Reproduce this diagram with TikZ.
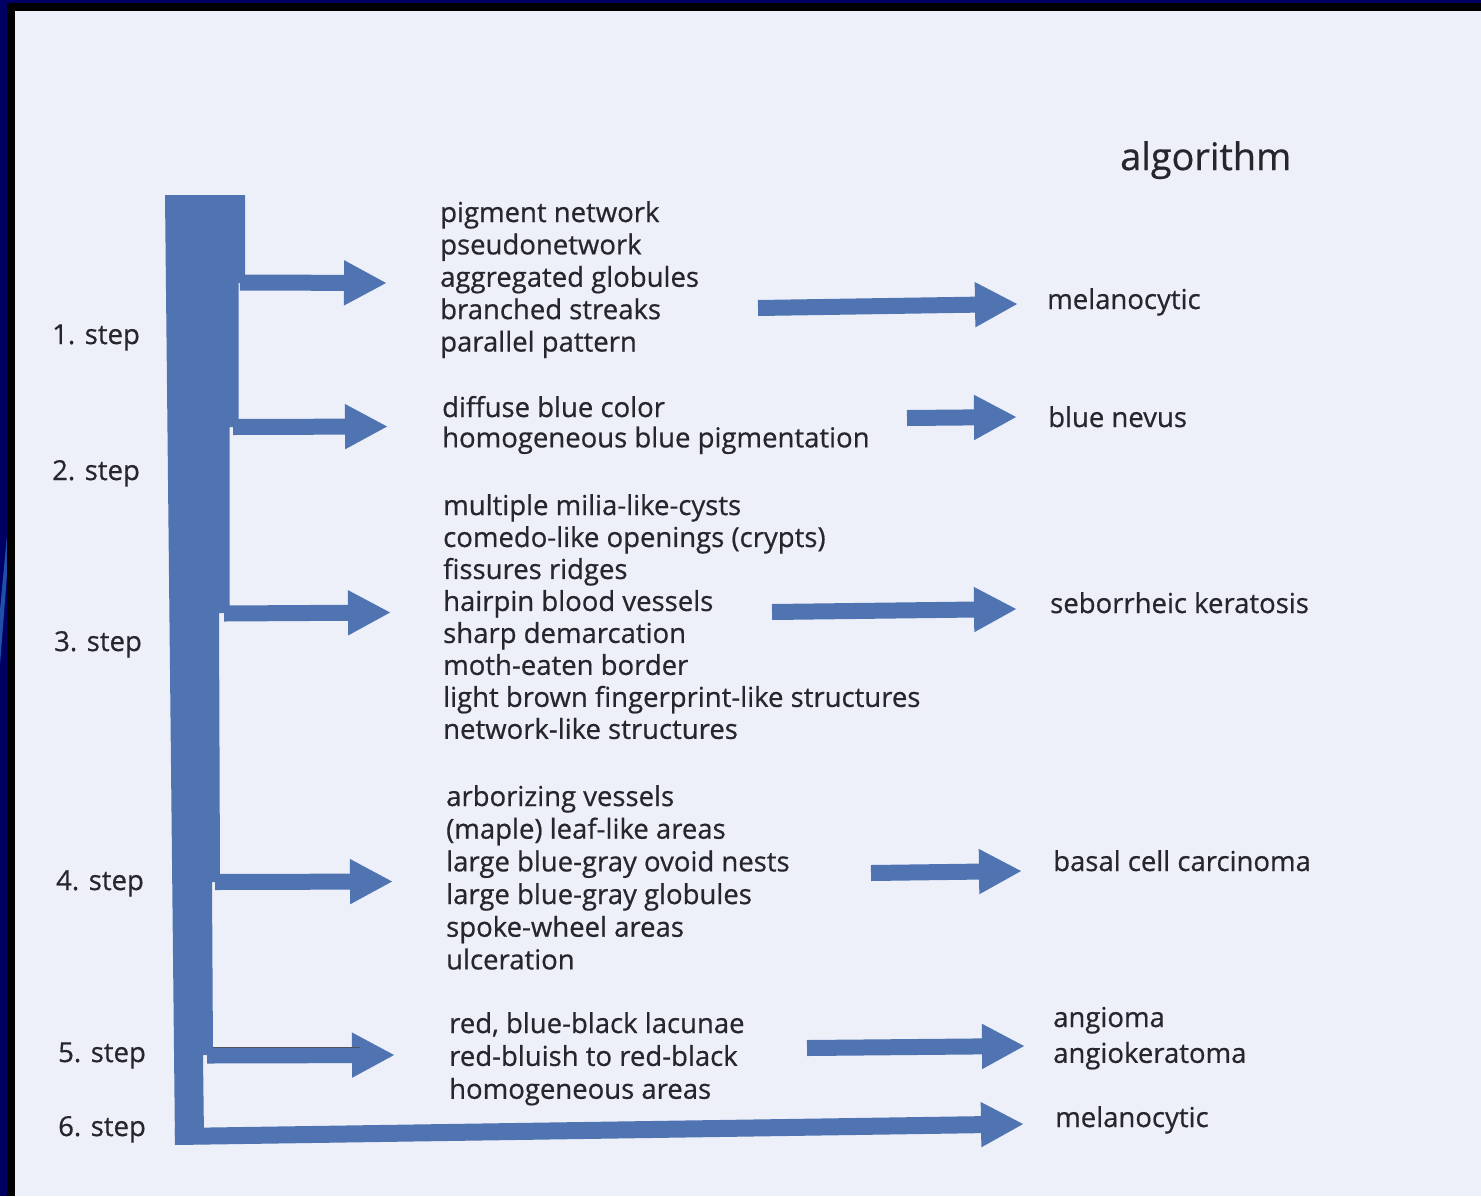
\documentclass[tikz,border=0pt]{standalone}
\usepackage{fontspec}
\setmainfont{Open Sans}[FakeBold=0.6]
\usetikzlibrary{arrows.meta}
\definecolor{pagebg}{RGB}{237,240,249}
\definecolor{barblue}{RGB}{80,116,177}
\definecolor{ink}{RGB}{38,38,44}
\definecolor{navy}{RGB}{0,0,100}
\definecolor{swoosh}{RGB}{30,80,170}
\newcommand{\bodyfont}{\fontsize{27.6}{32.5}\selectfont}
\tikzset{
  lbl/.style={anchor=base west, inner sep=0pt, text=ink, font=\bodyfont},
  grp/.style={anchor=base west, inner sep=0pt, text=ink},
  fat/.style={draw=barblue, line width=16bp, -{Triangle[length=43bp,width=42bp]}},
}
\newcommand{\grplines}[2]{{\fontsize{27.6}{#1}\selectfont\begin{tabular}[t]{@{}l@{}}#2\end{tabular}}}
\begin{document}
\begin{tikzpicture}[x=1bp,y=-1bp]
\useasboundingbox (0,0) rectangle (1481,1196);
% frame
\fill[navy] (0,0) rectangle (1481,1196);
\fill[swoosh] (0,610) -- (7,535) -- (7,575) -- (0,665) -- cycle;
\fill[black] (7,3) rectangle (1481,1196);
\fill[pagebg] (15,11) rectangle (1481,1196);

% main bar
\fill[barblue] (165,195) -- (245,195) -- (245,283) -- (238.5,283) -- (238.5,427)
  -- (229.5,427) -- (229.5,613) -- (219,613) -- (220,882) -- (212,882)
  -- (213,1055) -- (203,1055) -- (204,1137) -- (175,1145) -- cycle;

% branch points on the bar
\coordinate (b1) at (240,282.5);
\coordinate (b2) at (233,427);
\coordinate (b3) at (224,613.5);
\coordinate (b4) at (215,882);
\coordinate (b5) at (207,1055.5);
\coordinate (b6) at (175,1136.5);

% step labels
\node[lbl] (s1) at (52,344) {1. step};
\node[lbl] (s2) at (52,480) {2. step};
\node[lbl] (s3) at (54,651) {3. step};
\node[lbl] (s4) at (56,890) {4. step};
\node[lbl] (s5) at (58,1062) {5. step};
\node[lbl] (s6) at (58,1136) {6. step};

% title
\node[grp, font=\fontsize{38}{44}\selectfont] (title) at (1120,170) {algorithm};

% criteria groups
\node[grp] (g1) at (440,222) {\grplines{32.5}{pigment network\\pseudonetwork\\aggregated globules\\branched streaks\\parallel pattern}};
\node[grp] (g2) at (442,417) {\grplines{30.5}{diffuse blue color\\homogeneous blue pigmentation}};
\node[grp] (g3) at (443,515) {\grplines{32.1}{multiple milia-like-cysts\\comedo-like openings (crypts)\\fissures ridges\\hairpin blood vessels\\sharp demarcation\\moth-eaten border\\light brown fingerprint-like structures\\network-like structures}};
\node[grp] (g4) at (446,806) {\grplines{32.8}{arborizing vessels\\(maple) leaf-like areas\\large blue-gray ovoid nests\\large blue-gray globules\\spoke-wheel areas\\ulceration}};
\node[grp] (g5) at (449,1033) {\grplines{33}{red, blue-black lacunae\\red-bluish to red-black\\homogeneous areas}};

% results
\node[lbl] (r1) at (1047,309) {melanocytic};
\node[lbl] (r2) at (1048,427) {blue nevus};
\node[lbl] (r3) at (1050,613) {seborrheic keratosis};
\node[lbl] (r4) at (1053,871) {basal cell carcinoma};
\node[grp] (r5) at (1053,1027) {\grplines{36}{angioma\\angiokeratoma}};
\node[lbl] (r6) at (1055,1127) {melanocytic};

% arrow tips / tails
\coordinate (t1) at (387,283);
\coordinate (t2) at (388,426.5);
\coordinate (t3) at (391,612.5);
\coordinate (t4) at (393,881.5);
\coordinate (t5) at (395,1055);
\coordinate (t6) at (1024,1124);
\coordinate (a1) at (758,308);  \coordinate (e1) at (1018,304);
\coordinate (a2) at (907,418);  \coordinate (e2) at (1017,417);
\coordinate (a3) at (772,612);  \coordinate (e3) at (1017,609);
\coordinate (a4) at (871,873);  \coordinate (e4) at (1022,871);
\coordinate (a5) at (807,1048); \coordinate (e5) at (1025,1046);

% arrows from the bar to the criteria
\draw[fat] (b1) -- (t1);
\draw[fat] (b2) -- (t2);
\draw[fat] (b3) -- (t3);
\draw[fat] (b4) -- (t4);
\draw[fat] (b5) -- (t5);
\draw[ink!80, line width=1.5bp] (213,1047.5) -- (360,1047.5);
\draw[fat, line width=17bp] (b6) -- (t6);

% arrows from the criteria to the diagnoses
\draw[fat] (a1) -- (e1);
\draw[fat] (a2) -- (e2);
\draw[fat] (a3) -- (e3);
\draw[fat] (a4) -- (e4);
\draw[fat] (a5) -- (e5);
\end{tikzpicture}
\end{document}
